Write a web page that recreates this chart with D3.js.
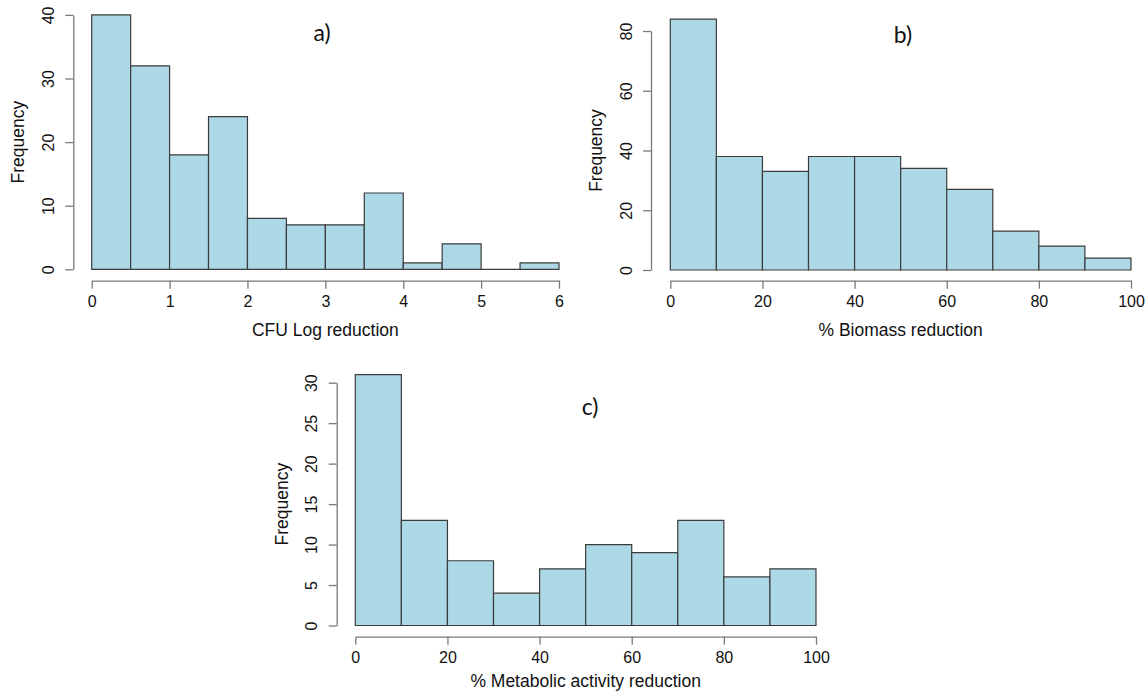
<!DOCTYPE html>
<html lang="en">
<head>
    <meta charset="UTF-8">
    <title>Histograms of reductions</title>
    <script src="https://d3js.org/d3.v7.min.js"></script>
    <style>
        body { margin: 0; background: #fff; }
        .bar { fill: #add8e6; stroke: #3c3c3c; stroke-width: 1.2px; }
        .axis path, .axis line { stroke: #7a7a7a; stroke-width: 1.3px; }
        .axis text { font: 16px "Liberation Sans", Arial, sans-serif; fill: #111; }
        .axis-label { font: 17.5px "Liberation Sans", Arial, sans-serif; fill: #111; }
        .panel-label { font: 23px Lato, "Open Sans", sans-serif; fill: #111; }
    </style>
</head>
<body>
    <svg width="1148" height="693"></svg>

    <script>
        // Data: bin edges and counts
        const cfuEdges = [0, 0.5, 1, 1.5, 2, 2.5, 3, 3.5, 4, 4.5, 5, 5.5, 6];
        const cfuCounts = [40, 32, 18, 24, 8, 7, 7, 12, 1, 4, 0, 1];
        const cfuXTicks = [0, 1, 2, 3, 4, 5, 6];
        const cfuYTicks = [0, 10, 20, 30, 40];

        const biomassEdges = [0, 10, 20, 30, 40, 50, 60, 70, 80, 90, 100];
        const biomassCounts = [84, 38, 33, 38, 38, 34, 27, 13, 8, 4];
        const biomassXTicks = [0, 20, 40, 60, 80, 100];
        const biomassYTicks = [0, 20, 40, 60, 80];

        const metabolicEdges = [0, 10, 20, 30, 40, 50, 60, 70, 80, 90, 100];
        const metabolicCounts = [31, 13, 8, 4, 7, 10, 9, 13, 6, 7];
        const metabolicXTicks = [0, 20, 40, 60, 80, 100];
        const metabolicYTicks = [0, 5, 10, 15, 20, 25, 30];

        const svg = d3.select("svg");

        // panel layout (pixel positions)
        const panels = [
            { edges: cfuEdges, counts: cfuCounts, xTicks: cfuXTicks, yTicks: cfuYTicks,
              xl: 91.7, xr: 559, yb: 269.3, yt: 14.9, axisX: 73.3, axisY: 280.7,
              title: "CFU Log reduction", titleY: 330, tag: "a)", tagX: 322, tagY: 33 },
            { edges: biomassEdges, counts: biomassCounts, xTicks: biomassXTicks, yTicks: biomassYTicks,
              xl: 670.3, xr: 1131, yb: 270, yt: 31, axisX: 651, axisY: 280.7,
              title: "% Biomass reduction", titleY: 330, tag: "b)", tagX: 903, tagY: 35 },
            { edges: metabolicEdges, counts: metabolicCounts, xTicks: metabolicXTicks, yTicks: metabolicYTicks,
              xl: 355.3, xr: 816, yb: 625.5, yt: 382.7, axisX: 336.7, axisY: 636.7,
              title: "% Metabolic activity reduction", titleY: 681, tag: "c)", tagX: 590, tagY: 407 }
        ];

        panels.forEach(p => {
            const x = d3.scaleLinear()
                .domain([p.edges[0], p.edges[p.edges.length - 1]])
                .range([p.xl, p.xr]);
            const y = d3.scaleLinear()
                .domain([0, d3.max(p.yTicks)])
                .range([p.yb, p.yt]);

            const g = svg.append("g");

            // bars (paths so that empty bins still show a line)
            g.selectAll(".bar")
                .data(p.counts)
                .enter().append("path")
                .attr("class", "bar")
                .attr("d", (c, i) => {
                    const x0 = x(p.edges[i]), x1 = x(p.edges[i + 1]);
                    return "M" + x0 + "," + y(0) + "V" + y(c) + "H" + x1 + "V" + y(0) + "Z";
                });

            // x axis
            const gx = g.append("g")
                .attr("class", "axis")
                .attr("transform", "translate(0," + p.axisY + ")")
                .call(d3.axisBottom(x).tickValues(p.xTicks).tickSize(8).tickSizeOuter(0).tickFormat(d3.format("d")));
            gx.selectAll("text").attr("y", 21).attr("dy", "0.35em");

            // y axis with rotated labels
            const gy = g.append("g")
                .attr("class", "axis")
                .attr("transform", "translate(" + p.axisX + ",0)")
                .call(d3.axisLeft(y).tickValues(p.yTicks).tickSize(8).tickSizeOuter(0));
            gy.selectAll("text")
                .attr("transform", "rotate(-90)")
                .attr("x", 0)
                .attr("y", -25)
                .attr("dy", "0.35em")
                .style("text-anchor", "middle");

            // x-axis label
            g.append("text")
                .attr("class", "axis-label")
                .attr("x", (p.xl + p.xr) / 2)
                .attr("y", p.titleY)
                .attr("dy", "0.35em")
                .style("text-anchor", "middle")
                .text(p.title);

            // y-axis label
            g.append("text")
                .attr("class", "axis-label")
                .attr("transform", "translate(" + (p.axisX - 55) + "," + ((p.yb + p.yt) / 2) + ") rotate(-90)")
                .attr("dy", "0.35em")
                .style("text-anchor", "middle")
                .text("Frequency");

            // panel tag
            g.append("text")
                .attr("class", "panel-label")
                .attr("x", p.tagX)
                .attr("y", p.tagY)
                .attr("dy", "0.35em")
                .style("text-anchor", "middle")
                .text(p.tag);
        });
    </script>
</body>
</html>
